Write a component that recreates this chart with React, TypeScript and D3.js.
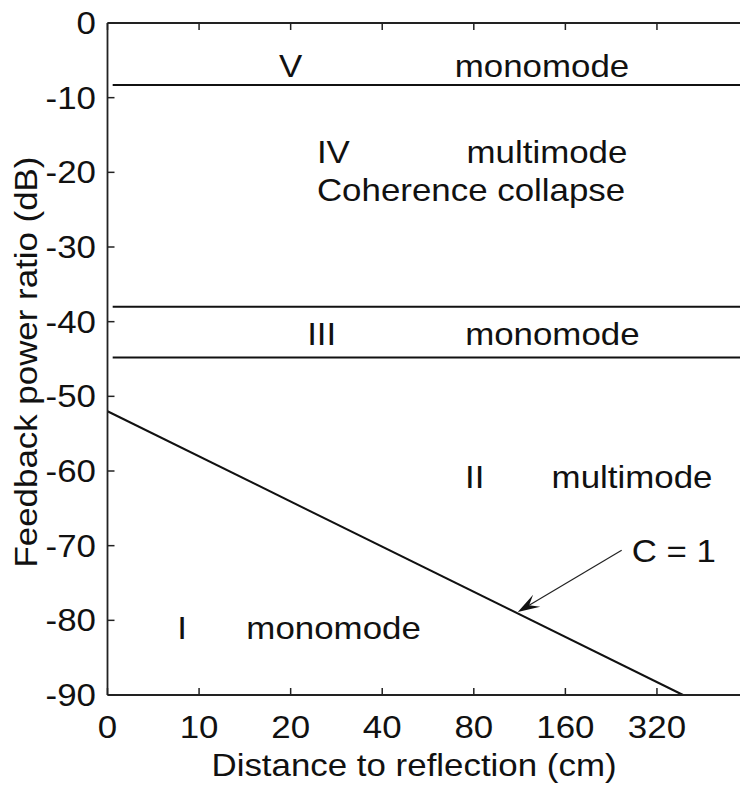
import React from "react";
import * as d3 from "d3";

// ---- data ----
const xTickValues = [0, 10, 20, 40, 80, 160, 320];
const yTickValues = [0, -10, -20, -30, -40, -50, -60, -70, -80, -90];
const boundaryLevels = [-8.3, -38, -44.8];
const cOneDistance = [0, 390];
const cOneRatio = [-52, -90];
const regionText = ["V", "monomode", "IV", "multimode", "Coherence collapse", "III", "monomode", "II", "multimode", "I", "monomode"];
const regionDistance = [20, 134, 24.4, 75.7, 24.4, 25.3, 145, 80.6, 265, 8.8, 14.3];
const regionRatio = [-7.2, -7.2, -18.75, -18.75, -23.8, -43.1, -43.1, -62.3, -62.3, -82.5, -82.5];
const regionAnchor = ["middle", "middle", "start", "start", "start", "middle", "middle", "middle", "middle", "middle", "start"];
const arrowFrom = { d: 245, db: -70.6 };
const arrowTo = { d: 111.6, db: -78.9 };
const arrowLabel = "C = 1";

const W = 740;
const H = 785;
const FS = 32;
const SX = 1.09;
const FONT = "'Liberation Sans', Arial, Helvetica, sans-serif";

const left = 107.5, right = 740, top = 23, bottom = 695;
const xs = d3.scaleLog().base(2).domain([5, 600]).range([left, right]);
const X = (d: number) => xs(d === 0 ? 5 : d);
const Y = d3.scaleLinear().domain([-90, 0]).range([bottom, top]);

function T({ x, y, anchor = "middle", rotate = 0, children }: any) {
  return (
    <text
      transform={`translate(${x},${y}) rotate(${rotate}) scale(${SX},1)`}
      textAnchor={anchor}
      fontSize={FS}
      fontFamily={FONT}
      fill="#111"
    >
      {children}
    </text>
  );
}

export default function App() {
  const line = d3.line<[number, number]>().x((p) => X(p[0])).y((p) => Y(p[1]));
  const cPts: [number, number][] = cOneDistance.map((d, i) => [d, cOneRatio[i]]);

  const ax = X(arrowFrom.d), ay = Y(arrowFrom.db);
  const bx = X(arrowTo.d), by = Y(arrowTo.db);
  const ang = Math.atan2(by - ay, bx - ax);
  const L = 22, Wd = 7;
  const ux = Math.cos(ang), uy = Math.sin(ang);
  const px = -uy, py = ux;
  const baseX = bx - ux * L, baseY = by - uy * L;
  const notchX = bx - ux * L * 0.6, notchY = by - uy * L * 0.6;
  const head = `M${bx},${by} L${baseX + px * Wd},${baseY + py * Wd} L${notchX},${notchY} L${baseX - px * Wd},${baseY - py * Wd} Z`;

  return (
    <svg width={W} height={H} style={{ position: "absolute", left: 0, top: 0, background: "#fff" }}>
      <rect width={W} height={H} fill="#fff" />
      {/* boundary lines */}
      {boundaryLevels.map((b, i) => (
        <line key={i} x1={X(5.2)} x2={right} y1={Y(b)} y2={Y(b)} stroke="#111" strokeWidth={2} />
      ))}
      {/* C = 1 line */}
      <path d={line(cPts) || ""} stroke="#111" strokeWidth={2} fill="none" />
      {/* arrow */}
      <line x1={ax} y1={ay} x2={notchX} y2={notchY} stroke="#222" strokeWidth={1.2} />
      <path d={head} fill="#111" />
      {/* axes box */}
      <line x1={left} x2={left} y1={top} y2={bottom} stroke="#222" strokeWidth={1.8} />
      <line x1={left} x2={right} y1={bottom} y2={bottom} stroke="#222" strokeWidth={1.8} />
      <line x1={left} x2={right} y1={top} y2={top} stroke="#222" strokeWidth={1.8} />
      {yTickValues.map((v) => (
        <g key={v}>
          <line x1={left} x2={left + 7} y1={Y(v)} y2={Y(v)} stroke="#222" strokeWidth={1.5} />
          <T x={96} y={Y(v) + 11} anchor="end">{v}</T>
        </g>
      ))}
      {xTickValues.map((v) => (
        <g key={v}>
          <line x1={X(v)} x2={X(v)} y1={bottom} y2={bottom - 7} stroke="#222" strokeWidth={1.5} />
          <line x1={X(v)} x2={X(v)} y1={top} y2={top + 7} stroke="#222" strokeWidth={1.5} />
          <T x={X(v)} y={738}>{v}</T>
        </g>
      ))}
      {/* region labels */}
      {regionText.map((t, i) => (
        <T key={i} x={X(regionDistance[i])} y={Y(regionRatio[i])} anchor={regionAnchor[i]}>
          {t}
        </T>
      ))}
      <T x={ax + 10} y={ay + 12} anchor="start">{arrowLabel}</T>
      {/* axis titles */}
      <T x={414} y={776}>Distance to reflection (cm)</T>
      <T x={37} y={362} rotate={-90}>Feedback power ratio (dB)</T>
    </svg>
  );
}
